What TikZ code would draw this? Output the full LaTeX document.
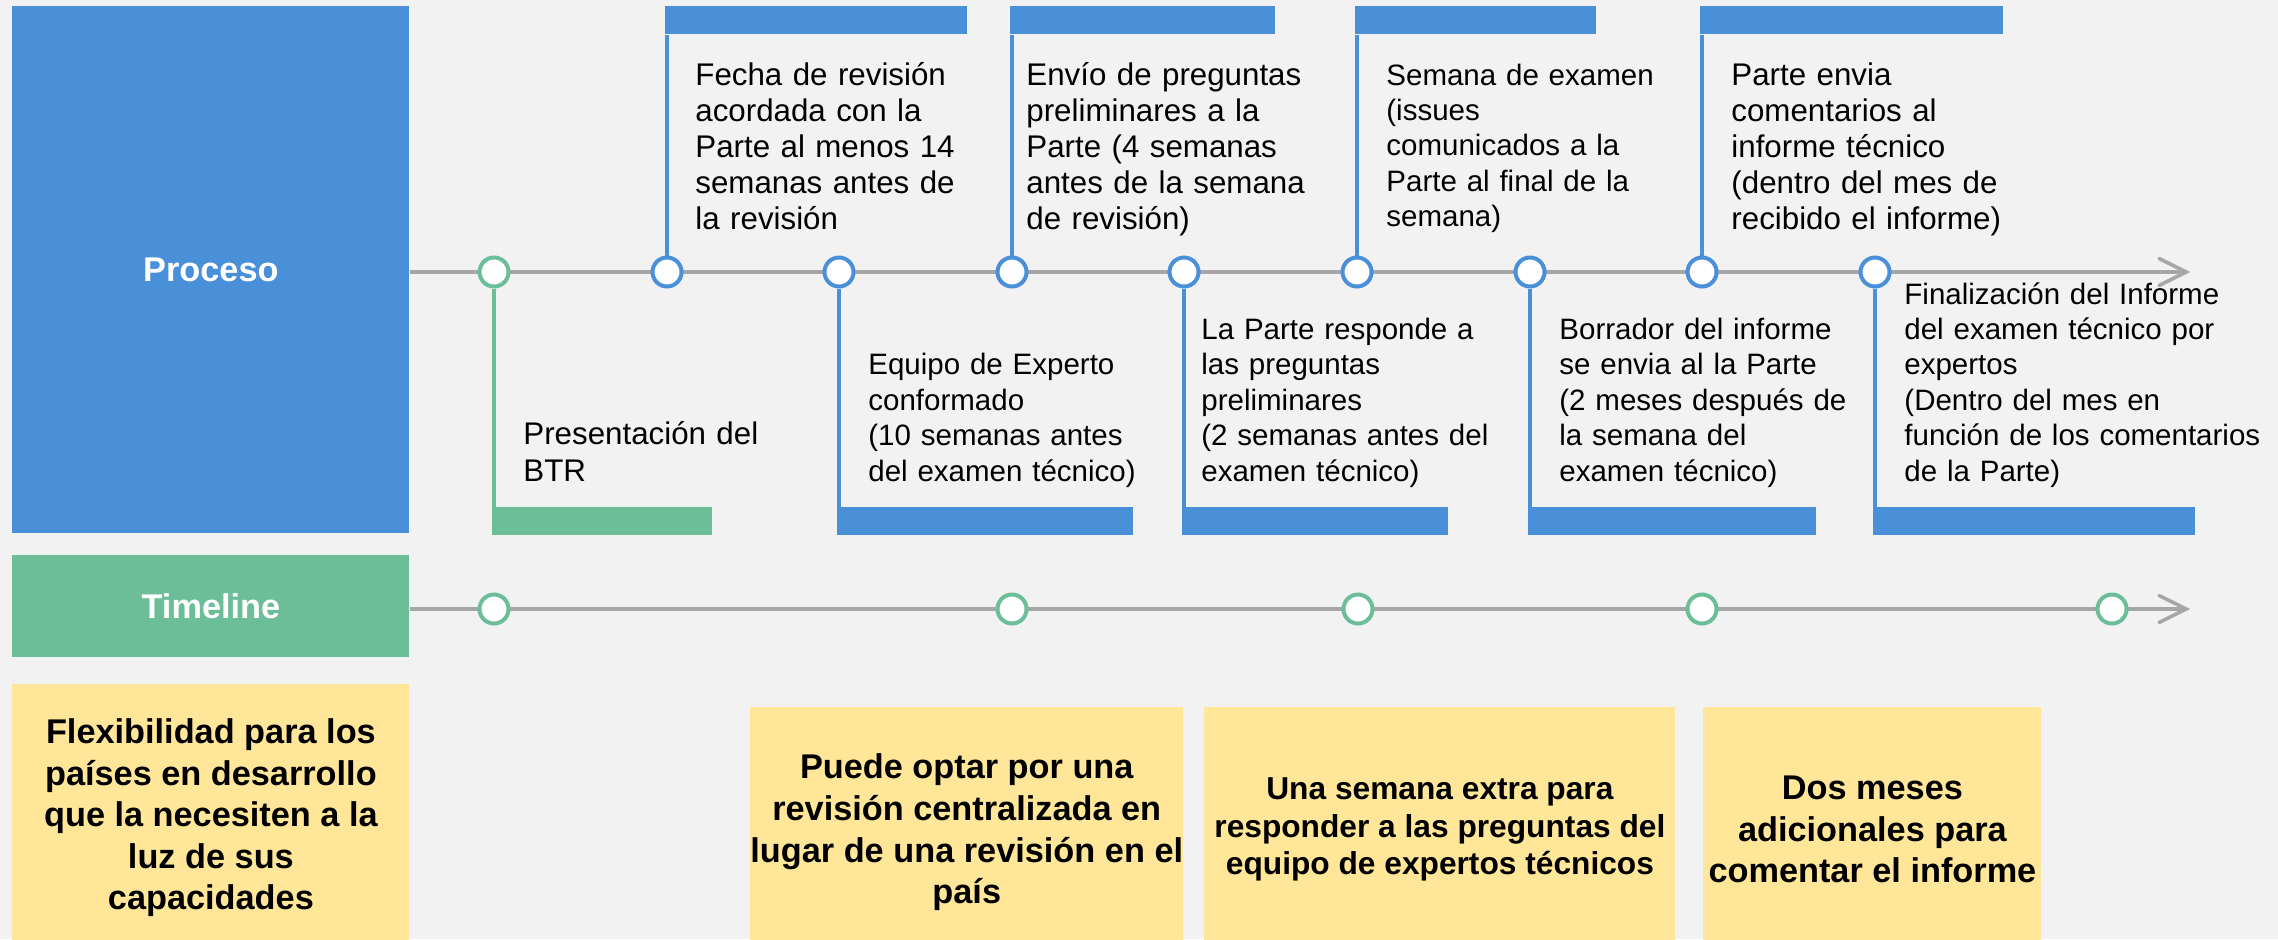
\documentclass[tikz,border=0pt]{standalone}
\usepackage{fontspec}
\setmainfont{Liberation Sans}
\usetikzlibrary{arrows.meta}
\definecolor{procblue}{HTML}{4A90D9}
\definecolor{tlgreen}{HTML}{6CBE98}
\definecolor{notey}{HTML}{FFE699}
\definecolor{axisgray}{HTML}{A6A6A6}
\definecolor{bgpaper}{HTML}{F2F2F2}
\tikzset{>={Straight Barb[length=13.5pt,width=13.5pt,line cap=round]}}
\tikzset{
    lanebox/.style={anchor=north west, inner sep=0pt, minimum width=198.5pt, text=white, font=\fontsize{17.15pt}{20.8pt}\selectfont\bfseries},
    axisline/.style={draw=axisgray, line width=1.75pt, ->},
    milestone/.style={circle, draw=#1, fill=white, line width=2pt, minimum size=14.5pt, inner sep=0pt},
    tabbar/.style={anchor=north west, fill=#1, inner sep=0pt, minimum height=14pt},
    stemline/.style={draw=#1, line width=1.65pt},
    steptext/.style={anchor=base west, inner sep=0pt, text width=180pt, align=left, font=\fontsize{14.75pt}{17.7pt}\selectfont},
    bigtext/.style={font=\fontsize{15.65pt}{18.1pt}\selectfont},
    extrabox/.style={anchor=north west, fill=notey, inner sep=0pt, align=center, font=\fontsize{17.15pt}{20.8pt}\selectfont\bfseries}
}

\begin{document}
\begin{tikzpicture}[x=0.5pt, y=-0.5pt]
    \useasboundingbox (0,0) rectangle (2278,939);
    \fill[bgpaper] (0,0) rectangle (2278,939);

    \node[lanebox, fill=procblue, minimum height=263.5pt] (proc) at (12,6) {Proceso};
    \node[lanebox, fill=tlgreen, minimum height=51pt] (tl) at (12,555) {Timeline};

    \coordinate (pend) at (2190,272);
    \coordinate (tend) at (2190,609);
    \draw[axisline] (proc.east |- pend) -- (pend);
    \draw[axisline] (tl.east |- tend) -- (tend);

    \node[milestone=tlgreen] (p1) at (494,272) {};
    \node[milestone=procblue] (p2) at (667,272) {};
    \node[milestone=procblue] (p3) at (839,272) {};
    \node[milestone=procblue] (p4) at (1012,272) {};
    \node[milestone=procblue] (p5) at (1184,272) {};
    \node[milestone=procblue] (p6) at (1357,272) {};
    \node[milestone=procblue] (p7) at (1530,272) {};
    \node[milestone=procblue] (p8) at (1702,272) {};
    \node[milestone=procblue] (p9) at (1875,272) {};

    \node[milestone=tlgreen] (t1) at (494,609) {};
    \node[milestone=tlgreen] (t2) at (1012,609) {};
    \node[milestone=tlgreen] (t3) at (1358,609) {};
    \node[milestone=tlgreen] (t4) at (1702,609) {};
    \node[milestone=tlgreen] (t5) at (2112,609) {};

    \node[tabbar=procblue, minimum width=151pt] (ta) at (665,6) {};
    \node[tabbar=procblue, minimum width=132.5pt] (tb) at (1010,6) {};
    \node[tabbar=procblue, minimum width=120.5pt] (tc) at (1355,6) {};
    \node[tabbar=procblue, minimum width=151.5pt] (td) at (1700,6) {};
    \node[tabbar=tlgreen, minimum width=110pt] (ba) at (492,507) {};
    \node[tabbar=procblue, minimum width=148pt] (bb) at (837,507) {};
    \node[tabbar=procblue, minimum width=133pt] (bc) at (1182,507) {};
    \node[tabbar=procblue, minimum width=144pt] (bd) at (1528,507) {};
    \node[tabbar=procblue, minimum width=161pt] (be) at (1873,507) {};

    \draw[stemline=tlgreen] (p1.south) -- (p1 |- ba.north);
    \draw[stemline=procblue] (p2.north) -- (p2 |- ta.south);
    \draw[stemline=procblue] (p3.south) -- (p3 |- bb.north);
    \draw[stemline=procblue] (p4.north) -- (p4 |- tb.south);
    \draw[stemline=procblue] (p5.south) -- (p5 |- bc.north);
    \draw[stemline=procblue] (p6.north) -- (p6 |- tc.south);
    \draw[stemline=procblue] (p7.south) -- (p7 |- bd.north);
    \draw[stemline=procblue] (p8.north) -- (p8 |- td.south);
    \draw[stemline=procblue] (p9.south) -- (p9 |- be.north);

    \node[steptext, bigtext] (fecha) at (695,85) {Fecha de revisión\\acordada con la\\Parte al menos 14\\semanas antes de\\la revisión};
    \node[steptext, bigtext] (envio) at (1026,85) {Envío de preguntas\\preliminares a la\\Parte (4 semanas\\antes de la semana\\de revisión)};
    \node[steptext] (semana) at (1386,85) {Semana de examen\\(issues\\comunicados a la\\Parte al final de la\\semana)};
    \node[steptext, bigtext] (coment) at (1731,85) {Parte envia\\comentarios al\\informe técnico\\(dentro del mes de\\recibido el informe)};
    \node[steptext, bigtext] (btr) at (523,444.8) {Presentación del\\BTR};
    \node[steptext] (equipo) at (868,374.8) {Equipo de Experto\\conformado\\(10 semanas antes\\del examen técnico)};
    \node[steptext] (resp) at (1201,339.4) {La Parte responde a\\las preguntas\\preliminares\\(2 semanas antes del\\examen técnico)};
    \node[steptext] (borr) at (1559,339.4) {Borrador del informe\\se envia al la Parte\\(2 meses después de\\la semana del\\examen técnico)};
    \node[steptext] (final) at (1904,304) {Finalización del Informe\\del examen técnico por\\expertos\\(Dentro del mes en\\función de los comentarios\\de la Parte)};

    \node[extrabox, minimum width=198.5pt, minimum height=133.5pt] (flex) at (12,684) {Flexibilidad para los\\países en desarrollo\\que la necesiten a la\\luz de sus\\capacidades};
    \node[extrabox, minimum width=214pt, minimum height=125pt] (central) at (750,707) {Puede optar por una\\revisión centralizada en\\lugar de una revisión en el\\país};
    \node[extrabox, minimum width=235.5pt, minimum height=122pt, font=\fontsize{15.85pt}{18.9pt}\selectfont\bfseries] (extra) at (1204,707) {Una semana extra para\\responder a las preguntas del\\equipo de expertos técnicos};
    \node[extrabox, minimum width=169pt, minimum height=122pt] (meses) at (1703,707) {Dos meses\\adicionales para\\comentar el informe};
\end{tikzpicture}
\end{document}
